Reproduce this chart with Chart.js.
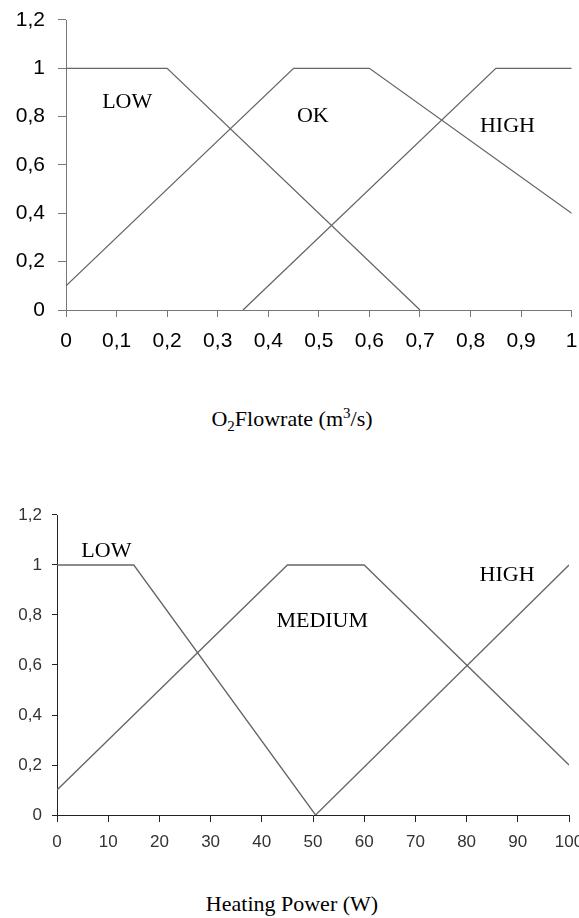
<!DOCTYPE html>
<html><head><meta charset="utf-8">
<script src="https://cdn.jsdelivr.net/npm/chart.js@4"></script>
<style>
html,body{margin:0;padding:0;background:#fff;width:579px;height:918px;overflow:hidden;position:relative;}
canvas{position:absolute;left:0;}
#c1{top:0;}
#c2{top:470px;}
.title{position:absolute;left:0;width:584px;text-align:center;font-family:"Liberation Serif","Times New Roman",serif;font-size:22px;line-height:22px;color:#000;white-space:nowrap;}
.title sub,.title sup{font-size:15px;line-height:0;}
</style></head><body>
<canvas id="c1" width="579" height="360"></canvas>
<div class="title" style="top:408px">O<sub>2</sub>Flowrate (m<sup>3</sup>/s)</div>
<canvas id="c2" width="579" height="380"></canvas>
<div class="title" style="top:893px">Heating Power (W)</div>
<script>
// ---------- data: O2 flowrate chart ----------
const flowTicksX = ['0','0,1','0,2','0,3','0,4','0,5','0,6','0,7','0,8','0,9','1'];
const flowTicksY = ['0','0,2','0,4','0,6','0,8','1','1,2'];
const flowLowX  = [0, 0.2, 0.7];
const flowLowY  = [1, 1, 0];
const flowOkX   = [0, 0.45, 0.6, 1];
const flowOkY   = [0.1, 1, 1, 0.4];
const flowHighX = [0.35, 0.85, 1];
const flowHighY = [0, 1, 1];
const flowLabelText = ['LOW', 'OK', 'HIGH'];
const flowLabelX = [0.121, 0.488, 0.873];
const flowLabelY = [0.836, 0.778, 0.736];

// ---------- data: heating power chart ----------
const heatTicksX = ['0','10','20','30','40','50','60','70','80','90','100'];
const heatTicksY = ['0','0,2','0,4','0,6','0,8','1','1,2'];
const heatLowX  = [0, 15, 50.5];
const heatLowY  = [1, 1, 0];
const heatMedX  = [0, 45, 60, 100];
const heatMedY  = [0.1, 1, 1, 0.2];
const heatHighX = [50.5, 100];
const heatHighY = [0, 1];
const heatLabelText = ['LOW', 'MEDIUM', 'HIGH'];
const heatLabelX = [9.65, 51.8, 87.9];
const heatLabelY = [1.031, 0.752, 0.937];

function pts(xs, ys) { return xs.map((x, i) => ({x: x, y: ys[i]})); }

const labelPlugin = {
  id: 'fuzzyLabels',
  afterDraw(chart, args, opts) {
    const ctx = chart.ctx, xs = chart.scales.x, ys = chart.scales.y;
    ctx.save();
    ctx.font = opts.font;
    ctx.fillStyle = '#000';
    ctx.textAlign = 'center';
    ctx.textBaseline = 'alphabetic';
    opts.text.forEach((t, i) => {
      ctx.fillText(t, xs.getPixelForValue(opts.x[i]), ys.getPixelForValue(opts.y[i]));
    });
    ctx.restore();
  }
};

function makeChart(id, cfg) {
  const ds = cfg.series.map(s => ({
    data: pts(s[0], s[1]),
    borderColor: cfg.lineColor,
    borderWidth: 1.3,
    pointRadius: 0,
    tension: 0,
    fill: false,
    showLine: true
  }));
  return new Chart(document.getElementById(id), {
    type: 'scatter',
    data: {datasets: ds},
    plugins: [labelPlugin],
    options: {
      responsive: false,
      animation: false,
      devicePixelRatio: 1,
      layout: {padding: cfg.padding},
      plugins: {
        legend: {display: false},
        tooltip: {enabled: false},
        fuzzyLabels: {text: cfg.labelText, x: cfg.labelX, y: cfg.labelY, font: '22px "Liberation Serif", "Times New Roman", serif'}
      },
      scales: {
        x: {
          type: 'linear', min: cfg.xMin, max: cfg.xMax,
          afterFit(s) { s.height = cfg.xHeight; s.paddingLeft = 0; s.paddingRight = 0; s.paddingTop = 0; s.paddingBottom = 0; },
          afterBuildTicks(s) { s.ticks = cfg.ticksX.map((t, i) => ({value: cfg.xMin + i * cfg.xStep})); },
          border: {display: true, color: cfg.axisColor, width: 1},
          grid: {display: true, drawOnChartArea: false, drawTicks: true, tickLength: 7, color: cfg.axisColor, lineWidth: 1},
          ticks: {
            autoSkip: false, maxRotation: 0, minRotation: 0, padding: cfg.xPad,
            color: cfg.tickColor, font: {family: '"Liberation Sans", Arial, sans-serif', size: cfg.tickSize},
            callback: (v, i) => cfg.ticksX[i]
          }
        },
        y: {
          type: 'linear', min: 0, max: 1.2,
          afterFit(s) { s.width = cfg.yWidth; s.paddingLeft = 0; s.paddingRight = 0; s.paddingTop = 0; s.paddingBottom = 0; },
          afterBuildTicks(s) { s.ticks = cfg.ticksY.map((t, i) => ({value: i * 0.2})); },
          border: {display: true, color: cfg.axisColor, width: 1},
          grid: {display: true, drawOnChartArea: false, drawTicks: true, tickLength: cfg.yTick, color: cfg.axisColor, lineWidth: 1},
          ticks: {
            autoSkip: false, padding: cfg.yPad,
            color: cfg.tickColor, font: {family: '"Liberation Sans", Arial, sans-serif', size: cfg.tickSize},
            callback: (v, i) => cfg.ticksY[i]
          }
        }
      }
    }
  });
}

makeChart('c1', {
  series: [[flowLowX, flowLowY], [flowOkX, flowOkY], [flowHighX, flowHighY]],
  lineColor: '#666', axisColor: '#777', tickColor: '#000', tickSize: 21,
  padding: {left: 0, right: 7.3, top: 20, bottom: 0},
  xMin: 0, xMax: 1, xStep: 0.1, ticksX: flowTicksX, ticksY: flowTicksY,
  xHeight: 50, yWidth: 66, yTick: 8, xPad: 12, yPad: 13,
  labelText: flowLabelText, labelX: flowLabelX, labelY: flowLabelY
});

makeChart('c2', {
  series: [[heatLowX, heatLowY], [heatMedX, heatMedY], [heatHighX, heatHighY]],
  lineColor: '#666', axisColor: '#222', tickColor: '#333', tickSize: 17,
  padding: {left: 0, right: 10, top: 45, bottom: 0},
  xMin: 0, xMax: 100, xStep: 10, ticksX: heatTicksX, ticksY: heatTicksY,
  xHeight: 35, yWidth: 57, yTick: 5, xPad: 10, yPad: 10,
  labelText: heatLabelText, labelX: heatLabelX, labelY: heatLabelY
});
</script>
</body></html>
